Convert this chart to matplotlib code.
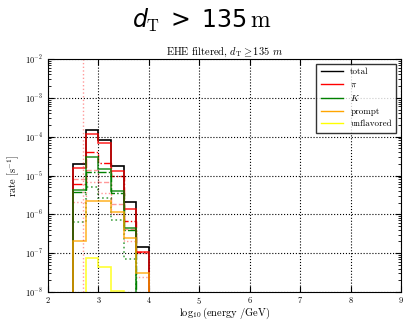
import matplotlib
matplotlib.use("Agg")
import matplotlib.pyplot as plt
from matplotlib.lines import Line2D
import numpy as np

plt.rcParams["font.family"] = "serif"
plt.rcParams["font.serif"] = ["cmr10", "DejaVu Serif"]
plt.rcParams["mathtext.fontset"] = "cm"
plt.rcParams["axes.formatter.use_mathtext"] = True
# used only by the big heading (math_fontfamily="custom")
plt.rcParams["mathtext.rm"] = "cmr10"
plt.rcParams["mathtext.it"] = "DejaVu Sans:italic"
plt.rcParams["mathtext.sf"] = "DejaVu Sans"

# log10(E/GeV) bin edges
edges = np.array([2.5, 2.75, 3.0, 3.25, 3.5, 3.75, 4.0])

total = [2.0e-5, 1.5e-4, 8.3e-5, 1.8e-5, 2.1e-6, 1.45e-7]
pion = [1.55e-5, 1.2e-4, 6.8e-5, 1.3e-5, 1.4e-6, 1.1e-7]
kaon = [4.2e-6, 2.95e-5, 1.5e-5, 4.0e-6, 4.5e-7, 0]
prompt = [2.1e-7, 2.2e-6, 2.2e-6, 1.15e-6, 2.5e-7, 3.0e-8]
unflavored = [0, 7.5e-8, 4.5e-8, 1.05e-8, 0, 0]

# sub-components drawn with broken lines
pion_dashdot = [6.0e-6, 4.0e-5, 2.1e-5, 1.0e-5, 6.8e-7, 1.05e-7]
pion_dashed = [8.0e-6, 1.4e-5, 7.0e-6, 1.9e-6, 4.3e-7, 1.0e-7]
pion_dotted = [2.1e-6, 7.0e-6, 3.5e-6, 1.0e-6, 2.0e-7, 2.5e-8]
kaon_dashdot = [3.8e-6, 1.2e-5, 1.2e-5, 3.6e-6, 4.0e-7, 0]
kaon_dotted = [6.5e-7, 5.2e-6, 2.7e-6, 7.0e-7, 7.0e-8, 0]

labels = ["total", r"$\pi$", r"$K$", "prompt", "unflavored"]
colors = ["black", "red", "green", "orange", "yellow"]

threshold = 2.7

fig = plt.figure(figsize=(4.03, 3.2), dpi=100)
ax = fig.add_axes([0.119, 0.0875, 0.876, 0.728])

centers = edges[:-1]
for vals, c in zip([total, pion, kaon, prompt, unflavored], colors):
    a = 1.0 if c == "black" else 0.8
    ax.hist(centers, bins=edges, weights=vals, histtype="step", color=c, alpha=a, lw=1.2)

ax.stairs(pion_dashdot, edges, baseline=None, color="red", ls="-.", lw=1.0)
ax.stairs(pion_dashed, edges, baseline=None, color="red", alpha=0.4, ls="--", lw=1.0)
ax.stairs(pion_dotted, edges, baseline=None, color="red", alpha=0.4, ls=":", lw=1.0)
ax.stairs(kaon_dashdot, edges, baseline=None, color="green", ls="-.", lw=1.0)
ax.stairs(kaon_dotted, edges, baseline=None, color="green", alpha=0.7, ls=":", lw=1.2)

ax.axvline(threshold, color="red", alpha=0.4, ls=":", lw=1.0)

ax.set_yscale("log")
ax.set_xlim(2, 9)
ax.set_ylim(1e-8, 1e-2)
ax.set_xticks(range(2, 10))
ax.grid(True, color="black", ls=":", lw=0.8)
ax.tick_params(which="both", direction="in", top=True, right=True, labelsize=6)
ax.tick_params(which="major", length=4)
ax.tick_params(which="minor", length=2)
ax.tick_params(axis="x", pad=2)

ax.set_xlabel(r"$\log_{10}$(energy /GeV)", fontsize=7.5, labelpad=0)
ax.set_ylabel(r"rate [s$^{-1}$]", fontsize=7.5, labelpad=2)
ax.set_title(r"EHE filtered, $d_{\rm T} \geq 135$ $m$", fontsize=7.5, pad=3)

handles = [Line2D([], [], color=c, lw=1.0) for c in colors]
leg = ax.legend(handles, labels, loc="upper right", fontsize=6.5, frameon=True,
                fancybox=False, handlelength=2.5, borderpad=0.5, labelspacing=0.45)
leg.get_frame().set_edgecolor("black")

fig.text(0.5, 0.935, r"$d_{\mathrm{T}}\;\mathsf{>}\;\mathsf{135}\,\mathrm{m}$",
         ha="center", va="center", fontsize=17, math_fontfamily="custom")

fig.savefig("out.png", dpi=100)
